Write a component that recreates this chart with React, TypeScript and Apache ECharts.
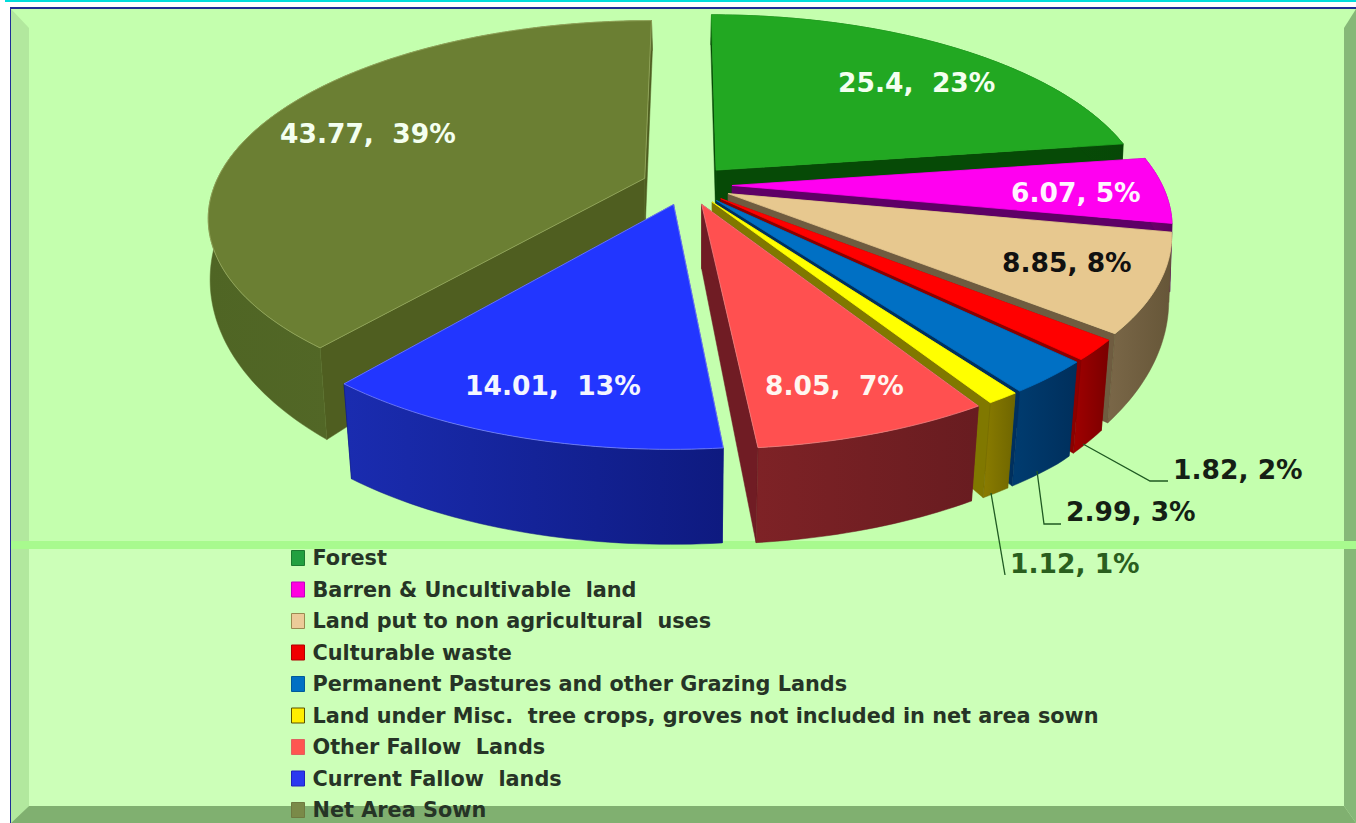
import React, { useEffect, useRef } from "react";
import * as echarts from "echarts";

const categories = [
  "Forest",
  "Barren & Uncultivable  land",
  "Land put to non agricultural  uses",
  "Culturable waste",
  "Permanent Pastures and other Grazing Lands",
  "Land under Misc.  tree crops, groves not included in net area sown",
  "Other Fallow  Lands",
  "Current Fallow  lands",
  "Net Area Sown",
];
const values = [25.4, 6.07, 8.85, 1.82, 2.99, 1.12, 8.05, 14.01, 43.77];
const dataLabels = [
  "25.4,  23%",
  "6.07, 5%",
  "8.85, 8%",
  "1.82, 2%",
  "2.99, 3%",
  "1.12, 1%",
  "8.05,  7%",
  "14.01,  13%",
  "43.77,  39%",
];

const topColors = ["#22a822", "#ff00f0", "#e7c88f", "#ff0000", "#0070c4", "#ffff00", "#ff5050", "#2236ff", "#6b7f33"];
const edgeColors = ["#22a822", "#ff00f0", "#e7c88f", "#ff0000", "#0070c4", "#ffff00", "#f08080", "#7a86ff", "#98aa60"];
const wallColors = [
  ["#0b5a0b", "#064806"],
  ["#70006c", "#5a0060"],
  ["#7a6748", "#665638"],
  ["#a00000", "#7a0000"],
  ["#003c70", "#002f5c"],
  ["#8a7c00", "#6f6600"],
  ["#7e2226", "#681c20"],
  ["#1a2cb0", "#0e1a80"],
  ["#4f6524", "#5a6c2c"],
];
const cutColors = ["#064a06", "#5e0066", "#6f5c40", "#8b0000", "#00305e", "#807800", "#701c24", "#101c90", "#4f5e20"];
const legendBorders = ["#1c7a30", "#c000c0", "#9a8a50", "#b00000", "#005a9a", "#5a5000", "#e06060", "#2020c0", "#6f7a40"];
const legendFills = ["#22a040", "#ff00e0", "#eccb98", "#f00000", "#0070c4", "#ffee00", "#ff5550", "#2a38f0", "#7a8a48"];
const drawOrder = [8, 0, 1, 2, 3, 4, 7, 5, 6];

// label layout: [x, y, colour]
const labelLayout: [number, number, string][] = [
  [838, 82, "#f4fff0"],
  [1011, 192, "#fff4ff"],
  [1002, 262, "#111111"],
  [1173, 469, "#151f15"],
  [1066, 511, "#151f15"],
  [1010, 563, "#2a5e1e"],
  [765, 385, "#fff6f0"],
  [465, 385, "#f4f6ff"],
  [280, 133, "#f4fff0"],
];
// leader lines, from the slice edge to its label
const leaders: Record<number, number[][]> = {
  3: [[1083, 444], [1150, 481], [1168, 481]],
  4: [[1037, 471], [1044, 524], [1061, 524]],
  5: [[991, 493], [1005, 575]],
};

const CX = 687, CY = 185, RX = 430, RY = 190, K = 0.19, EXPLODE = 0.105;
const total = values.reduce((a, b) => a + b, 0);
const rad = (v: number) => (v / total) * Math.PI * 2;

function top(u: number, v: number): number[] {
  const s = 1 / (1 + K * v);
  return [CX + RX * u * s, CY - RY * v * s];
}
function bottom(u: number, v: number): number[] {
  const s = 1 / (1 + K * v);
  const d = Math.max(30, Math.min(95, 60 - 43 * v));
  const shrink = 1 - 0.025 * Math.abs(v);
  return [CX + RX * u * s * shrink, CY - RY * v * s + d];
}

function sliceItem(index: number) {
  return (_params: any, api: any) => {
    const value = api.value(0);
    const before = values.slice(0, index).reduce((a, b) => a + b, 0);
    const a0 = rad(before);
    const a1 = a0 + rad(value);
    const mid = (a0 + a1) / 2;
    const ox = EXPLODE * Math.sin(mid);
    const oy = EXPLODE * Math.cos(mid);
    const steps = Math.max(4, Math.ceil((a1 - a0) / 0.02));
    const arcUV: number[][] = [];
    for (let i = 0; i <= steps; i++) {
      const a = a0 + ((a1 - a0) * i) / steps;
      arcUV.push([ox + Math.sin(a), oy + Math.cos(a)]);
    }
    const topArc = arcUV.map(([u, v]) => top(u, v));
    const botArc = arcUV.map(([u, v]) => bottom(u, v));
    const apexT = top(ox, oy);
    const apexB = bottom(ox, oy);
    const cut = cutColors[index];
    const face = (points: number[][], fill: any, stroke: any = fill, lineWidth = 0.5) => ({
      type: "polygon",
      shape: { points },
      style: { fill, stroke, lineWidth },
      silent: true,
    });
    const children: any[] = [
      face([apexT, topArc[topArc.length - 1], botArc[botArc.length - 1], apexB], cut),
      face([apexT, topArc[0], botArc[0], apexB], cut),
      face(
        [...topArc, ...botArc.slice().reverse()],
        new echarts.graphic.LinearGradient(0, 0, 1, 0, [
          { offset: 0, color: wallColors[index][0] },
          { offset: 1, color: wallColors[index][1] },
        ]),
        wallColors[index][1]
      ),
      face([apexT, ...topArc], topColors[index], edgeColors[index], 0.8),
    ];
    return { type: "group", children };
  };
}

function labelItem(_params: any, _api: any) {
  const children: any[] = [];
  Object.keys(leaders).forEach((k) => {
    children.push({
      type: "polyline",
      shape: { points: leaders[+k] },
      style: { fill: "none", stroke: "#1f5a22", lineWidth: 1.3 },
      silent: true,
    });
  });
  dataLabels.forEach((text, i) => {
    const [x, y, fill] = labelLayout[i];
    children.push({
      type: "text",
      x,
      y,
      style: {
        text,
        fill,
        font: "bold 26.5px 'DejaVu Sans'",
        textAlign: "left",
        textVerticalAlign: "middle",
      },
      silent: true,
    });
  });
  return { type: "group", children };
}

export default function App() {
  const ref = useRef<HTMLDivElement>(null);
  useEffect(() => {
    const chart = echarts.init(ref.current!, undefined, { renderer: "svg" });
    const poly = (points: number[][], fill: string, z = -5) => ({
      type: "polygon",
      shape: { points },
      style: { fill },
      z,
      silent: true,
    });
    const rect = (x: number, y: number, width: number, height: number, fill: string, z = -4) => ({
      type: "rect",
      shape: { x, y, width, height },
      style: { fill },
      z,
      silent: true,
    });
    chart.setOption({
      animation: false,
      backgroundColor: "#ffffff",
      graphic: {
        elements: [
          rect(5, 0, 1351, 2, "#00dcdc"),
          rect(10, 7, 1346, 816, "#1e2e98", -6),
          rect(11, 9, 1345, 536, "#c4ffae", -5),
          rect(11, 545, 1345, 278, "#ccffb8", -5),
          poly([[11, 9], [29, 28], [29, 806], [11, 823]], "#b2e89e", -4),
          poly([[1356, 9], [1344, 28], [1344, 806], [1356, 823]], "#86b878", -4),
          poly([[11, 823], [29, 806], [1344, 806], [1356, 823]], "#80b070", -4),
          rect(11, 541, 1345, 8, "#a8fa8e", -3),
        ],
      },
      legend: {
        orient: "vertical",
        left: 291,
        top: 547.5,
        padding: 0,
        itemWidth: 13,
        itemHeight: 15,
        itemGap: 10.5,
        selectedMode: false,
        icon: "rect",
        textStyle: {
          fontFamily: "'DejaVu Sans'",
          fontSize: 20.8,
          fontWeight: "bold",
          color: "#263426",
          padding: [0, 0, 0, 3],
        },
        data: categories.map((name, i) => ({
          name,
          itemStyle: { color: legendFills[i], borderColor: legendBorders[i], borderWidth: 1 },
        })),
      },
      xAxis: { show: false, min: 0, max: 1 },
      yAxis: { show: false, min: 0, max: 1 },
      grid: { left: 0, right: 0, top: 0, bottom: 0 },
      series: [
        ...drawOrder.map((i) => ({
          type: "custom",
          name: categories[i],
          coordinateSystem: "none",
          renderItem: sliceItem(i),
          itemStyle: { color: topColors[i] },
          data: [[values[i]]],
          silent: true,
          encode: { value: 0 },
        })),
        {
          type: "custom",
          name: "labels",
          coordinateSystem: "none",
          renderItem: labelItem,
          data: [[0]],
          silent: true,
          z: 5,
        },
      ],
    });
    return () => chart.dispose();
  }, []);
  return <div ref={ref} style={{ position: "absolute", left: 0, top: 0, width: 1356, height: 823 }} />;
}
